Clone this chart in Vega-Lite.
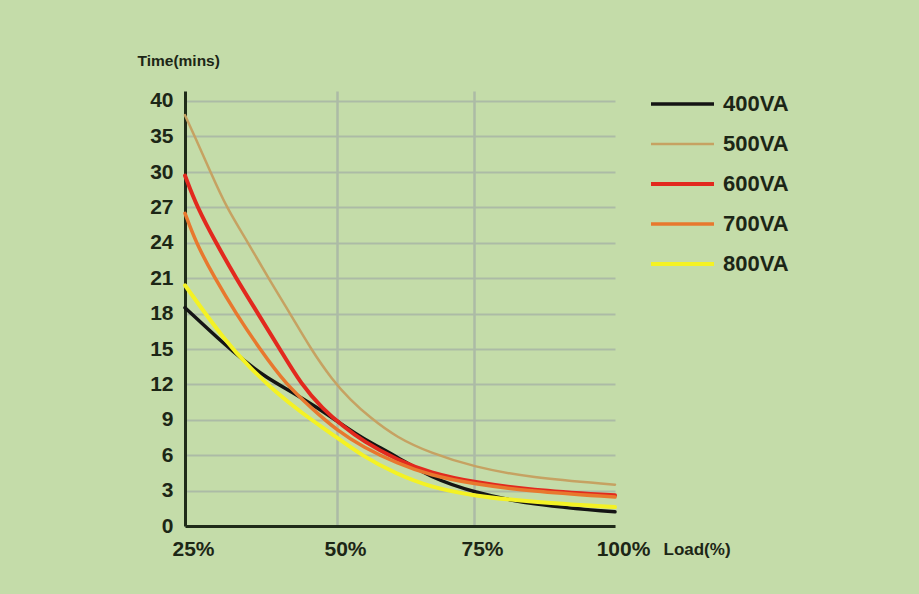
{
  "$schema": "https://vega.github.io/schema/vega-lite/v6.json",
  "width": 430,
  "height": 435,
  "autosize": {"type": "none"},
  "padding": {"left": 185, "top": 91, "right": 304, "bottom": 68},
  "background": "#c4dca9",
  "config": {"view": {"stroke": null}, "font": "Liberation Sans"},
  "data": {
    "values": [
      {"model": "400VA", "load": 25, "time": 18.5},
      {"model": "400VA", "load": 31.7, "time": 15.3},
      {"model": "400VA", "load": 34.5, "time": 14.1},
      {"model": "400VA", "load": 38.3, "time": 12.6},
      {"model": "400VA", "load": 42.8, "time": 11.3},
      {"model": "400VA", "load": 46.5, "time": 10.1},
      {"model": "400VA", "load": 50, "time": 8.9},
      {"model": "400VA", "load": 54.7, "time": 7.4},
      {"model": "400VA", "load": 60.9, "time": 5.9},
      {"model": "400VA", "load": 67, "time": 4.1},
      {"model": "400VA", "load": 75, "time": 2.85},
      {"model": "400VA", "load": 84.9, "time": 1.8},
      {"model": "400VA", "load": 100, "time": 1.2},
      {"model": "500VA", "load": 25, "time": 38.0},
      {"model": "500VA", "load": 26.6, "time": 35},
      {"model": "500VA", "load": 29.2, "time": 30},
      {"model": "500VA", "load": 31.8, "time": 27},
      {"model": "500VA", "load": 35.4, "time": 24},
      {"model": "500VA", "load": 38.7, "time": 21},
      {"model": "500VA", "load": 42.3, "time": 18},
      {"model": "500VA", "load": 45.7, "time": 15},
      {"model": "500VA", "load": 49.2, "time": 12.4},
      {"model": "500VA", "load": 52.4, "time": 10.7},
      {"model": "500VA", "load": 56, "time": 9.2},
      {"model": "500VA", "load": 60.9, "time": 7.5},
      {"model": "500VA", "load": 67, "time": 6.2},
      {"model": "500VA", "load": 75, "time": 5.0},
      {"model": "500VA", "load": 84.9, "time": 4.1},
      {"model": "500VA", "load": 100, "time": 3.5},
      {"model": "600VA", "load": 25, "time": 29.7},
      {"model": "600VA", "load": 27, "time": 27},
      {"model": "600VA", "load": 30.1, "time": 24},
      {"model": "600VA", "load": 33.4, "time": 21},
      {"model": "600VA", "load": 37, "time": 18},
      {"model": "600VA", "load": 40.6, "time": 15},
      {"model": "600VA", "load": 44.1, "time": 12},
      {"model": "600VA", "load": 47.7, "time": 9.9},
      {"model": "600VA", "load": 51, "time": 8.5},
      {"model": "600VA", "load": 54.7, "time": 7.2},
      {"model": "600VA", "load": 61, "time": 5.6},
      {"model": "600VA", "load": 67, "time": 4.5},
      {"model": "600VA", "load": 75, "time": 3.7},
      {"model": "600VA", "load": 84.9, "time": 3.05},
      {"model": "600VA", "load": 100, "time": 2.6},
      {"model": "700VA", "load": 25, "time": 26.5},
      {"model": "700VA", "load": 26.8, "time": 24},
      {"model": "700VA", "load": 29.9, "time": 21},
      {"model": "700VA", "load": 33.4, "time": 18},
      {"model": "700VA", "load": 37.3, "time": 15},
      {"model": "700VA", "load": 41.6, "time": 12},
      {"model": "700VA", "load": 46, "time": 9.9},
      {"model": "700VA", "load": 50, "time": 8.1},
      {"model": "700VA", "load": 54.7, "time": 6.7},
      {"model": "700VA", "load": 61, "time": 5.3},
      {"model": "700VA", "load": 67, "time": 4.3},
      {"model": "700VA", "load": 75, "time": 3.55},
      {"model": "700VA", "load": 84.9, "time": 2.95},
      {"model": "700VA", "load": 100, "time": 2.45},
      {"model": "800VA", "load": 25, "time": 20.4},
      {"model": "800VA", "load": 31.7, "time": 15.6},
      {"model": "800VA", "load": 35.7, "time": 13.4},
      {"model": "800VA", "load": 40, "time": 11.3},
      {"model": "800VA", "load": 44.4, "time": 9.5},
      {"model": "800VA", "load": 48.9, "time": 7.9},
      {"model": "800VA", "load": 54.7, "time": 5.9},
      {"model": "800VA", "load": 60.9, "time": 4.4},
      {"model": "800VA", "load": 67, "time": 3.3},
      {"model": "800VA", "load": 75, "time": 2.55},
      {"model": "800VA", "load": 84.9, "time": 2.05},
      {"model": "800VA", "load": 100, "time": 1.6}
    ]
  },
  "mark": {"type": "line", "interpolate": "basis", "strokeCap": "round"},
  "encoding": {
    "x": {
      "field": "load",
      "type": "quantitative",
      "scale": {"domain": [25, 50, 75, 100], "range": [0, 152, 289, 430]},
      "axis": {
        "values": [25, 50, 75, 100],
        "labelExpr": "datum.value + '%'",
        "title": "Load(%)",
        "titleAlign": "left",
        "titleX": 478,
        "titleY": 23,
        "titleBaseline": "middle",
        "titleFontSize": 17,
        "titleFontWeight": "bold",
        "titleColor": "#1c2616",
        "domainColor": "#1f2b19",
        "domainWidth": 3,
        "ticks": false,
        "labelPadding": 12,
        "labelOffset": 8,
        "labelFontSize": 21,
        "labelFontWeight": "bold",
        "labelColor": "#1c2616",
        "labelFlush": false,
        "labelOverlap": false,
        "labelBound": false,
        "grid": true,
        "gridColor": "#acbba6",
        "gridWidth": 2.5,
        "gridOpacity": {"condition": {"test": "datum.value == 25 || datum.value == 100", "value": 0}, "value": 1}
      }
    },
    "y": {
      "field": "time",
      "type": "quantitative",
      "scale": {"domain": [0, 30, 41.4], "range": [435, 81, 0]},
      "axis": {
        "values": [0, 3, 6, 9, 12, 15, 18, 21, 24, 27, 30, 35, 40],
        "title": "Time(mins)",
        "titleAngle": 0,
        "titleAlign": "left",
        "titleX": -48,
        "titleY": -31,
        "titleBaseline": "middle",
        "titleFontSize": 15.5,
        "titleFontWeight": "bold",
        "titleColor": "#1c2616",
        "domainColor": "#1f2b19",
        "domainWidth": 3,
        "ticks": false,
        "labelPadding": 12,
        "labelFontSize": 21,
        "labelFontWeight": "bold",
        "labelColor": "#1c2616",
        "labelOverlap": false,
        "labelFlush": false,
        "labelBound": false,
        "grid": true,
        "gridColor": "#acbba6",
        "gridWidth": 2
      }
    },
    "color": {
      "field": "model",
      "type": "nominal",
      "scale": {
        "domain": ["400VA", "500VA", "600VA", "700VA", "800VA"],
        "range": ["#141414", "#c6a262", "#e2291e", "#e8782e", "#f4f224"]
      },
      "legend": {
        "title": null,
        "orient": "none",
        "legendX": 464,
        "legendY": -7,
        "symbolType": "stroke",
        "symbolSize": 3969,
        "symbolStrokeWidth": 4,
        "clipHeight": 40,
        "rowPadding": 0,
        "padding": 0,
        "labelFontSize": 22,
        "labelFontWeight": "bold",
        "labelColor": "#1c2616",
        "labelOffset": 7
      }
    },
    "strokeWidth": {
      "field": "model",
      "type": "nominal",
      "scale": {
        "type": "ordinal",
        "domain": ["400VA", "500VA", "600VA", "700VA", "800VA"],
        "range": [3.5, 2.5, 4, 3.5, 4]
      },
      "legend": null
    }
  }
}
